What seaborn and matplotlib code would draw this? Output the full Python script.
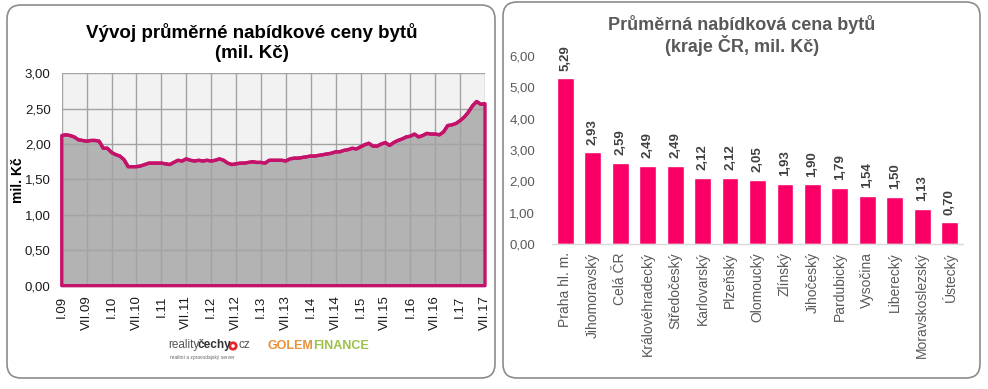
import numpy as np
import pandas as pd
import matplotlib
matplotlib.use("Agg")
import matplotlib.pyplot as plt
import seaborn as sns
from matplotlib.patches import FancyBboxPatch, Circle

# ---------------- data ----------------
# monthly average asking price, I.2009 .. VII.2017 (mil. Kč)
months = list(range(103))
prices = [
    2.12, 2.13, 2.12, 2.10, 2.06, 2.05, 2.04, 2.05, 2.05, 2.04,
    1.94, 1.94, 1.88, 1.85, 1.83, 1.78, 1.68, 1.68, 1.68, 1.69,
    1.71, 1.73, 1.73, 1.73, 1.73, 1.72, 1.71, 1.74, 1.77, 1.76,
    1.79, 1.77, 1.76, 1.77, 1.76, 1.77, 1.76, 1.77, 1.79, 1.77,
    1.73, 1.71, 1.72, 1.73, 1.73, 1.74, 1.75, 1.74, 1.74, 1.73,
    1.77, 1.77, 1.77, 1.77, 1.76, 1.79, 1.80, 1.80, 1.81, 1.82,
    1.83, 1.83, 1.84, 1.85, 1.86, 1.87, 1.89, 1.89, 1.91, 1.92,
    1.94, 1.93, 1.96, 1.99, 2.01, 1.97, 1.97, 2.00, 2.02, 1.98,
    2.02, 2.05, 2.07, 2.10, 2.11, 2.14, 2.10, 2.12, 2.15, 2.14,
    2.14, 2.13, 2.17, 2.26, 2.27, 2.29, 2.33, 2.38, 2.45, 2.54,
    2.60, 2.56, 2.57,
]
time_ticks = ["I.09", "VII.09", "I.10", "VII.10", "I.11", "VII.11", "I.12", "VII.12",
              "I.13", "VII.13", "I.14", "VII.14", "I.15", "VII.15", "I.16", "VII.16",
              "I.17", "VII.17"]
price_ticks = [0.0, 0.5, 1.0, 1.5, 2.0, 2.5, 3.0]

regions = ["Praha hl. m.", "Jihomoravský", "Celá ČR", "Královéhradecký", "Středočeský",
           "Karlovarský", "Plzeňský", "Olomoucký", "Zlínský", "Jihočeský", "Pardubický",
           "Vysočina", "Liberecký", "Moravskoslezský", "Ústecký"]
region_prices = [5.29, 2.93, 2.59, 2.49, 2.49, 2.12, 2.12, 2.05, 1.93, 1.90, 1.79,
                 1.54, 1.50, 1.13, 0.70]
region_ticks = [0, 1, 2, 3, 4, 5, 6]

def cz(v):
    return f"{v:.2f}".replace(".", ",")

# ---------------- style ----------------
sns.set_theme(style="white")
plt.rcParams['font.family'] = ['Liberation Sans', 'DejaVu Sans']

LINE = '#C4126B'
BAR = '#FA0066'
AREA = '#B3B3B3'
GRID = '#A3A3A3'
GRAYTXT = '#595959'

fig = plt.figure(figsize=(9.88, 3.89), dpi=100)
fig.patch.set_facecolor('white')

# background canvas in pixel coordinates
bg = fig.add_axes([0, 0, 1, 1], zorder=0)
bg.set_xlim(0, 988)
bg.set_ylim(389, 0)
bg.axis('off')
for (x0, y0, x1, y1) in [(7, 5, 495, 378), (503, 2, 980, 378)]:
    bg.add_patch(FancyBboxPatch((x0, y0), x1 - x0, y1 - y0,
                                boxstyle="round,pad=0,rounding_size=14",
                                fc='white', ec='#8C8C8C', lw=1.2))

# titles
bg.text(252, 32, "Vývoj průměrné nabídkové ceny bytů", ha='center', va='center',
        fontsize=13.5, fontweight='bold', color='black')
bg.text(252, 53, "(mil. Kč)", ha='center', va='center',
        fontsize=13.5, fontweight='bold', color='black')
bg.text(742, 24, "Průměrná nabídková cena bytů", ha='center', va='center',
        fontsize=13, fontweight='bold', color=GRAYTXT)
bg.text(742, 45, "(kraje ČR, mil. Kč)", ha='center', va='center',
        fontsize=13, fontweight='bold', color=GRAYTXT)

# y label of left chart
bg.text(18, 180, "mil. Kč", rotation=90, ha='center', va='center',
        fontsize=10, fontweight='bold', color='black')

# logos (as text)
bg.text(199, 345, "reality", ha='right', va='center', fontsize=8.5, color='#555555')
bg.text(197, 345, "čechy", ha='left', va='center', fontsize=8.5, fontweight='bold', color='#333333')
bg.add_patch(Circle((233, 346), 4.6, fc='#E3262E', ec='none'))
bg.add_patch(Circle((233, 346), 1.8, fc='white', ec='none'))
bg.text(238.5, 345, "cz", ha='left', va='center', fontsize=8.5, color='#555555')
bg.text(170, 357, "realitní a zpravodajský server", ha='left', va='center', fontsize=3.5, color='#666666')
bg.text(313, 346, "GOLEM", ha='right', va='center', fontsize=9, fontweight='bold', color='#E8913A')
bg.text(313, 346, "FINANCE", ha='left', va='center', fontsize=9, fontweight='bold', color='#9BC246')

# ---------------- left chart ----------------
ax1 = fig.add_axes([0.0625, 0.2656, 0.4284, 0.5463], zorder=1)
ax1.set_facecolor('#F2F2F2')
df = pd.DataFrame({'month': months, 'price': prices})
ax1.fill_between(df['month'], 0, df['price'], facecolor=AREA, edgecolor='none', zorder=1)
ax1.fill_between(df['month'], 0, df['price'], facecolor='none', edgecolor=LINE,
                 lw=2.4, zorder=3, clip_on=False)
sns.lineplot(data=df, x='month', y='price', ax=ax1, color=LINE, lw=2.4, zorder=4)
ax1.set_xlim(months[0], months[-1])
ax1.set_ylim(price_ticks[0], price_ticks[-1])
ax1.set_xticks(months[::6])
ax1.set_xticklabels(time_ticks, rotation=90, fontsize=9.5, color='#1A1A1A')
ax1.set_yticks(price_ticks)
ax1.set_yticklabels([cz(v) for v in price_ticks], fontsize=9.5, color='#1A1A1A')
ax1.set_axisbelow(False)
ax1.grid(True, color=GRID, lw=1.0, zorder=2)
for s in ax1.spines.values():
    s.set_visible(False)
ax1.tick_params(length=0, pad=8)
ax1.tick_params(axis='x', pad=7)
ax1.set_xlabel('')
ax1.set_ylabel('')

# ---------------- right chart ----------------
ax2 = fig.add_axes([0.5584, 0.3728, 0.4166, 0.4833], zorder=1)
df2 = pd.DataFrame({'region': regions, 'price': region_prices})
sns.barplot(data=df2, x='region', y='price', ax=ax2, color=BAR, saturation=1, width=0.61)
ax2.set_xlim(-0.5, len(regions) - 0.5)
ax2.set_ylim(region_ticks[0], region_ticks[-1])
ax2.set_yticks(region_ticks)
ax2.set_yticklabels([cz(v) for v in region_ticks], fontsize=9.5, color=GRAYTXT)
ax2.set_xticks(range(len(regions)))
ax2.set_xticklabels(regions, rotation=90, fontsize=10, color=GRAYTXT)
for s in ['top', 'right', 'left']:
    ax2.spines[s].set_visible(False)
ax2.spines['bottom'].set_color('#D9D9D9')
ax2.spines['bottom'].set_linewidth(1.0)
ax2.tick_params(length=0)
ax2.tick_params(axis='y', pad=12)
ax2.tick_params(axis='x', pad=6)
ax2.set_xlabel('')
ax2.set_ylabel('')
for i, v in enumerate(region_prices):
    ax2.text(i, v + 0.24, cz(v), rotation=90, ha='center', va='bottom',
             fontsize=9.5, fontweight='bold', color='#404040')

fig.savefig("out.png", dpi=100)
